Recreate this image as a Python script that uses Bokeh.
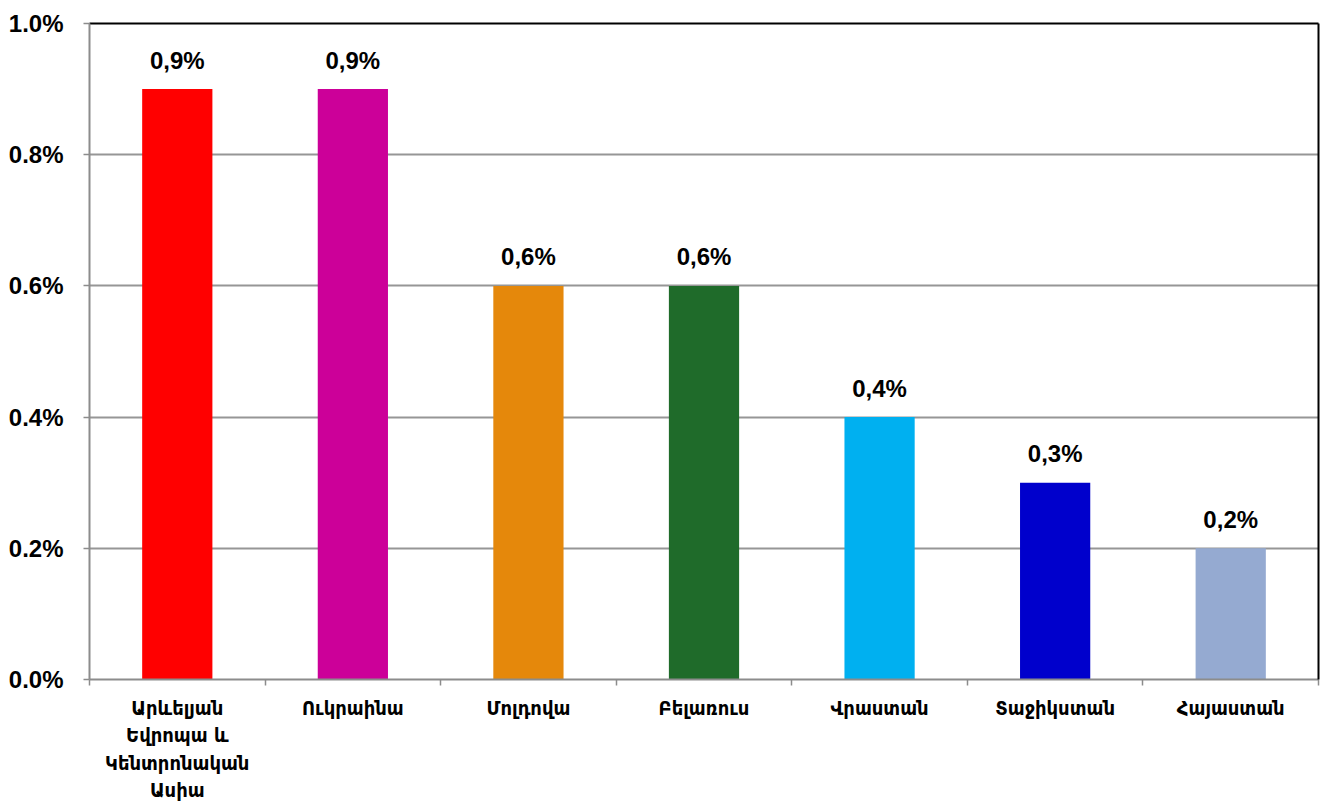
from bokeh.plotting import figure
from bokeh.models import (ColumnDataSource, Range1d, FixedTicker, PrintfTickFormatter,
                          LinearAxis)
from bokeh.embed import file_html
from bokeh.resources import INLINE
from bokeh.core.properties import value

categories = ["Արևելյան\nԵվրոպա և\nԿենտրոնական\nԱսիա", "Ուկրաինա", "Մոլդովա",
              "Բելառուս", "Վրաստան", "Տաջիկստան", "Հայաստան"]
values = [0.9, 0.9, 0.6, 0.6, 0.4, 0.3, 0.2]
value_labels = ["0,9%", "0,9%", "0,6%", "0,6%", "0,4%", "0,3%", "0,2%"]
colors = ["#FF0000", "#CC0099", "#E5880B", "#1F6B2A", "#00B0F0", "#0000CC", "#95AAD1"]
y_ticks = [0.0, 0.2, 0.4, 0.6, 0.8, 1.0]

n = len(categories)
centers = [i + 0.5 for i in range(n)]

src = ColumnDataSource(dict(x=centers, top=values, color=colors, label=value_labels))

p = figure(width=1321, height=805, output_backend="svg", toolbar_location=None,
           x_range=Range1d(0, n), y_range=Range1d(0, 1.0),
           min_border_left=89, min_border_right=3, min_border_top=23, min_border_bottom=125)
p.background_fill_color = "white"
p.border_fill_color = "white"
p.outline_line_color = None

p.vbar(x="x", top="top", width=0.4, color="color", source=src, line_color=None)
p.text(x="x", y="top", text="label", source=src, text_align="center",
       text_baseline="alphabetic", y_offset=-29, text_font=value("Liberation Sans"),
       text_font_style="bold", text_font_size="24px", text_color="black")

# x axis
xa = p.xaxis[0]
xa.ticker = FixedTicker(ticks=centers, minor_ticks=list(range(n + 1)))
xa.major_label_overrides = {c: lab for c, lab in zip(centers, categories)}
xa.major_tick_in = 0
xa.major_tick_out = 0
xa.minor_tick_in = 0
xa.minor_tick_out = 6
xa.minor_tick_line_color = "#8c8c8c"
xa.minor_tick_line_width = 1.5
xa.axis_line_color = "#8c8c8c"
xa.axis_line_width = 2
xa.major_label_text_font = "DejaVu Sans Condensed, DejaVu Sans"
xa.major_label_text_font_style = "bold"
xa.major_label_text_font_size = "20px"
xa.major_label_text_color = "black"
xa.major_label_text_line_height = 1.15
xa.major_label_standoff = 10

# y axis
ya = p.yaxis[0]
ya.ticker = FixedTicker(ticks=y_ticks)
ya.formatter = PrintfTickFormatter(format="%.1f%%")
ya.major_tick_in = 0
ya.major_tick_out = 6
ya.major_tick_line_color = "#8c8c8c"
ya.major_tick_line_width = 1.5
ya.minor_tick_line_color = None
ya.axis_line_color = "#8c8c8c"
ya.axis_line_width = 2
ya.major_label_text_font = "Liberation Sans"
ya.major_label_text_font_style = "bold"
ya.major_label_text_font_size = "24px"
ya.major_label_text_color = "black"
ya.major_label_standoff = 20

p.xgrid.grid_line_color = None
p.ygrid.grid_line_color = "#969696"
p.ygrid.grid_line_width = 2

# top and right black border lines
top_ax = LinearAxis(ticker=FixedTicker(ticks=[]), axis_line_color="black", axis_line_width=2,
                    major_tick_line_color=None, minor_tick_line_color=None)
right_ax = LinearAxis(ticker=FixedTicker(ticks=[]), axis_line_color="black", axis_line_width=2,
                      major_tick_line_color=None, minor_tick_line_color=None)
p.add_layout(top_ax, "above")
p.add_layout(right_ax, "right")

open("out.html", "w").write(file_html(p, INLINE))
